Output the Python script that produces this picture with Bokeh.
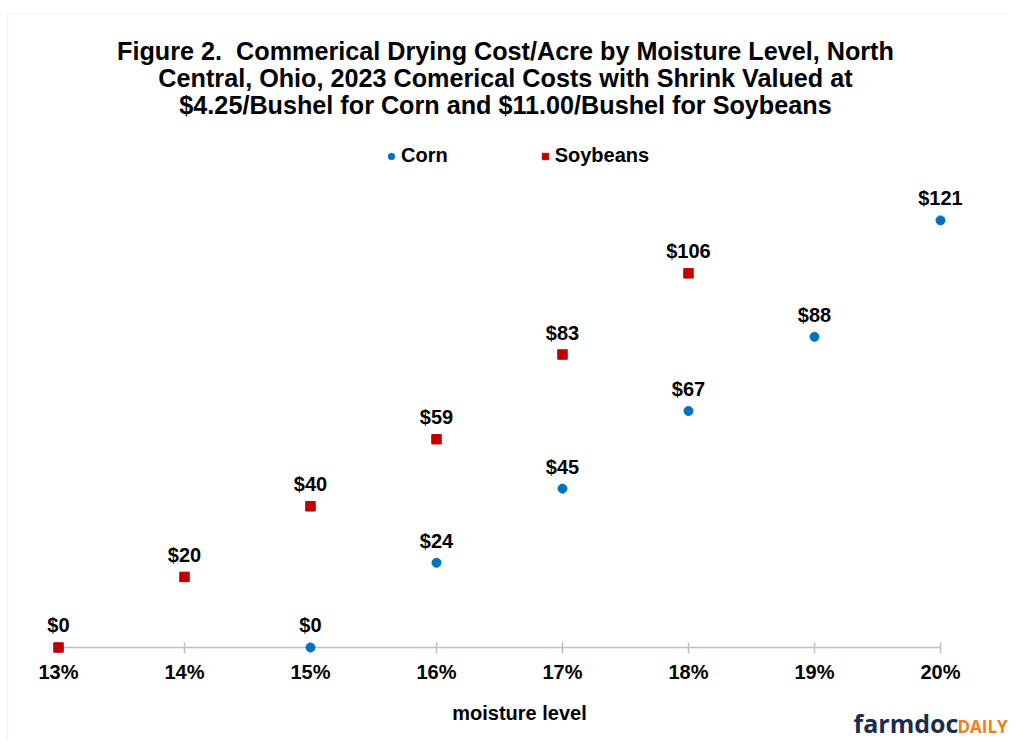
from bokeh.plotting import figure
from bokeh.models import (ColumnDataSource, LabelSet, Label, Legend, LegendItem,
                          FixedTicker, BoxAnnotation)
from bokeh.core.properties import value
from bokeh.embed import file_html
from bokeh.resources import INLINE

# ---- data ----
ticks = [13, 14, 15, 16, 17, 18, 19, 20]
tick_labels = ["13%", "14%", "15%", "16%", "17%", "18%", "19%", "20%"]

corn_x = [15, 16, 17, 18, 19, 20]
corn_y = [0, 24, 45, 67, 88, 121]

soy_x = [13, 14, 15, 16, 17, 18]
soy_y = [0, 20, 40, 59, 83, 106]

title_lines = [
    "Figure 2.\u00a0 Commerical Drying Cost/Acre by Moisture Level, North",
    "Central, Ohio, 2023 Comerical Costs with Shrink Valued at",
    "$4.25/Bushel for Corn and $11.00/Bushel for Soybeans",
]
x_title = "moisture level"

FONT = "Liberation Sans"
BLUE = "#0070c0"
RED = "#c00000"

corn_src = ColumnDataSource(dict(x=corn_x, y=corn_y, lab=["$%d" % v for v in corn_y]))
soy_src = ColumnDataSource(dict(x=soy_x, y=soy_y, lab=["$%d" % v for v in soy_y]))

W, H = 1008, 740
p = figure(width=W, height=H, output_backend="svg", toolbar_location=None,
           x_range=(12.5397, 20.5397), y_range=(-26.35, 183.29),
           min_border_left=0, min_border_right=0, min_border_top=0,
           min_border_bottom=0)
p.outline_line_color = None
p.grid.visible = False
p.yaxis.visible = False

# light chart-area border (top and left edges visible)
p.add_layout(BoxAnnotation(left=7, right=1200, top=H - 13, bottom=-200,
                           left_units="screen", right_units="screen",
                           top_units="screen", bottom_units="screen",
                           fill_alpha=0, line_color="#d9d9d9", line_width=1.5,
                           level="underlay"))

ax = p.xaxis[0]
ax.fixed_location = 0
ax.level = "underlay"
ax.ticker = FixedTicker(ticks=ticks)
ax.major_label_overrides = {t: l for t, l in zip(ticks, tick_labels)}
ax.bounds = (13, 20)
ax.axis_line_color = "#bfbfbf"
ax.axis_line_width = 1.5
ax.major_tick_line_color = "#bfbfbf"
ax.major_tick_line_width = 1.5
ax.major_tick_in = 5
ax.major_tick_out = 6
ax.minor_tick_line_color = None
ax.major_label_text_font = FONT
ax.major_label_text_font_style = "bold"
ax.major_label_text_font_size = "20px"
ax.major_label_text_color = "#000000"
ax.major_label_standoff = 8

p.add_layout(Label(x=519, y=H - 712, x_units="screen", y_units="screen",
                   text=x_title, text_align="center", text_baseline="middle",
                   text_font=FONT, text_font_style="bold", text_font_size="20px",
                   text_color="#000000"))

r_corn = p.scatter("x", "y", source=corn_src, marker="circle", size=9,
                   fill_color=BLUE, line_color=BLUE)
r_soy = p.scatter("x", "y", source=soy_src, marker="square", size=9.5,
                  fill_color=RED, line_color=RED)

for src in (corn_src, soy_src):
    p.add_layout(LabelSet(x="x", y="y", text="lab", source=src, y_offset=22,
                          text_align="center", text_baseline="middle",
                          text_font=value(FONT), text_font_style="bold",
                          text_font_size="20px", text_color="#000000"))

legend = Legend(items=[LegendItem(label="Corn", renderers=[r_corn]),
                       LegendItem(label="Soybeans", renderers=[r_soy])],
                location=(383, 573), orientation="horizontal",
                glyph_width=16, glyph_height=20, label_standoff=2, spacing=89,
                padding=0, margin=0, border_line_alpha=0, background_fill_alpha=0,
                label_text_font=FONT, label_text_font_style="bold",
                label_text_font_size="20px", label_text_color="#000000")
p.add_layout(legend)

for i, line in enumerate(title_lines):
    p.add_layout(Label(x=505, y=690 - 27 * i, x_units="screen", y_units="screen",
                       text=line, text_align="center", text_baseline="middle",
                       text_font=FONT, text_font_style="bold",
                       text_font_size="25.2px", text_color="#000000"))

p.add_layout(Label(x=853, y=1, x_units="screen", y_units="screen", text="farmdoc",
                   text_align="left", text_baseline="bottom", text_font="Open Sans",
                   text_font_style="bold", text_font_size="25px", text_color="#1d2b4f"))
p.add_layout(Label(x=957, y=3, x_units="screen", y_units="screen", text="DAILY",
                   text_align="left", text_baseline="bottom", text_font="Open Sans",
                   text_font_style="bold", text_font_size="17px", text_color="#f47b20"))

open("out.html", "w").write(file_html(p, INLINE))
